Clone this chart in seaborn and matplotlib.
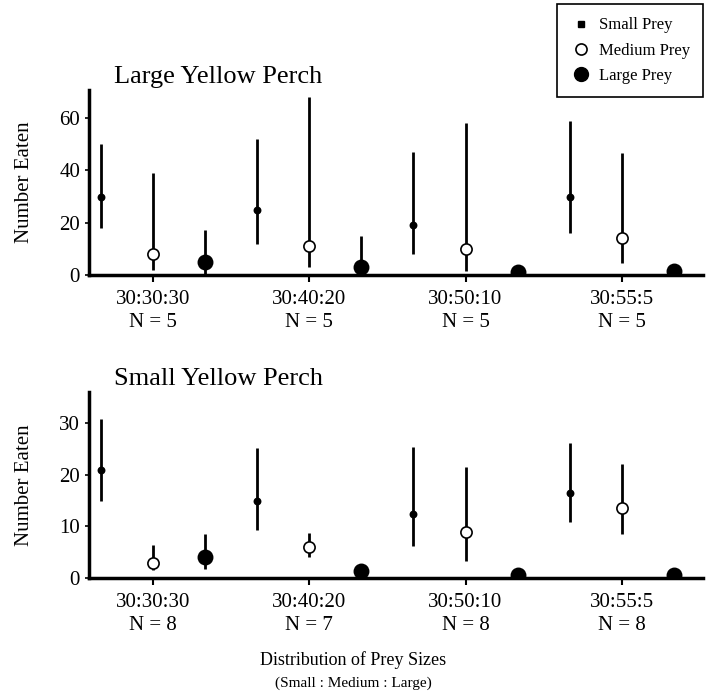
import numpy as np
import pandas as pd
import matplotlib
matplotlib.use('Agg')
import matplotlib.pyplot as plt
import seaborn as sns
from matplotlib.lines import Line2D

sns.set_style("ticks")
plt.rcParams['font.family'] = ['Liberation Serif', 'DejaVu Serif']
for key in ['text.color', 'axes.labelcolor', 'xtick.color', 'ytick.color', 'axes.edgecolor']:
    plt.rcParams[key] = 'black'

# prey distributions (small : medium : large)
ratios = ['30:30:30', '30:40:20', '30:50:10', '30:55:5']
prey = ['Small Prey', 'Medium Prey', 'Large Prey']

# large yellow perch
large_n = [5, 5, 5, 5]
large_mean = {'Small Prey': [30, 25, 19, 30],
              'Medium Prey': [8, 11, 10, 14],
              'Large Prey': [5, 3, 1, 1.5]}
large_lo = {'Small Prey': [18, 12, 8, 16],
            'Medium Prey': [2, 3, 1.5, 4.5],
            'Large Prey': [0, 0, 0, 0]}
large_hi = {'Small Prey': [50, 52, 47, 59],
            'Medium Prey': [39, 68, 58, 46.5],
            'Large Prey': [17, 15, 1, 3]}

# small yellow perch
small_n = [8, 7, 8, 8]
small_mean = {'Small Prey': [21, 15, 12.4, 16.4],
              'Medium Prey': [3, 6, 9, 13.5],
              'Large Prey': [4, 1.4, 0.6, 0.6]}
small_lo = {'Small Prey': [15, 9.3, 6.2, 10.8],
            'Medium Prey': [1.5, 4, 3.3, 8.5],
            'Large Prey': [1.7, 0.5, 0.6, 0.6]}
small_hi = {'Small Prey': [30.7, 25.2, 25.4, 26.1],
            'Medium Prey': [6.5, 8.8, 21.5, 22],
            'Large Prey': [8.5, 2.5, 0.6, 0.6]}

marker_style = {'Small Prey': dict(s=20, facecolor='black'),
                'Medium Prey': dict(s=65, facecolor='white'),
                'Large Prey': dict(s=105, facecolor='black')}


def make_df(mean, lo, hi):
    rows = []
    for g, r in enumerate(ratios):
        for k, p in enumerate(prey):
            rows.append(dict(ratio=r, prey=p, x=3 * g + k,
                             mean=mean[p][g], lo=lo[p][g], hi=hi[p][g]))
    return pd.DataFrame(rows)


def draw_panel(ax, df, n, title, ymax, yticks):
    ax.vlines(df['x'], df['lo'], df['hi'], color='black', lw=2, zorder=2)
    for p in prey:
        sub = df[df['prey'] == p]
        st = marker_style[p]
        sns.scatterplot(data=sub, x='x', y='mean', ax=ax, marker='o', s=st['s'],
                        color=st['facecolor'], edgecolor='black', linewidth=1.2,
                        zorder=3, legend=False)
    ax.set_xlim(-0.22, 11.55)
    ax.set_ylim(0, ymax)
    ax.set_yticks(yticks)
    ax.set_xticks([3 * g + 1 for g in range(len(ratios))])
    ax.set_xticklabels([f'{r}\nN = {m}' for r, m in zip(ratios, n)], fontsize=15,
                       linespacing=1.25)
    ax.tick_params(axis='y', labelsize=15, length=3, width=1.2)
    ax.tick_params(axis='x', length=5, width=1.5, pad=6)
    for side in ['top', 'right']:
        ax.spines[side].set_visible(False)
    for side in ['left', 'bottom']:
        ax.spines[side].set_linewidth(2.5)
    ax.set_xlabel('')
    ax.set_ylabel('Number Eaten', fontsize=15, labelpad=18)
    ax.text(0.04, 1.07, title, transform=ax.transAxes, fontsize=19, va='center', ha='left')


fig = plt.figure(figsize=(7.07, 6.94), dpi=100)
ax1 = fig.add_axes([0.126, 0.604, 0.868, 0.267])
ax2 = fig.add_axes([0.126, 0.167, 0.868, 0.268])

draw_panel(ax1, make_df(large_mean, large_lo, large_hi), large_n, 'Large Yellow Perch',
           71, [0, 20, 40, 60])
draw_panel(ax2, make_df(small_mean, small_lo, small_hi), small_n, 'Small Yellow Perch',
           36, [0, 10, 20, 30])

fig.text(0.5, 0.049, 'Distribution of Prey Sizes', ha='center', va='center', fontsize=13)
fig.text(0.5, 0.016, '(Small : Medium : Large)', ha='center', va='center', fontsize=11)

handles = [Line2D([], [], ls='none', marker='s', markersize=4.5, color='black'),
           Line2D([], [], ls='none', marker='o', markersize=8, markerfacecolor='white',
                  markeredgecolor='black', markeredgewidth=1.2),
           Line2D([], [], ls='none', marker='o', markersize=10, color='black')]
leg = fig.legend(handles, prey, loc='upper right', bbox_to_anchor=(0.995, 0.994),
                 fontsize=12, frameon=True, fancybox=False, edgecolor='black',
                 framealpha=1, handletextpad=0.5, handlelength=1.2, borderpad=0.8,
                 labelspacing=0.55, borderaxespad=0)
leg.get_frame().set_linewidth(1.2)

fig.savefig('out.png', dpi=100)
